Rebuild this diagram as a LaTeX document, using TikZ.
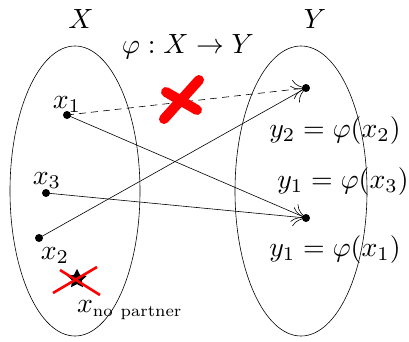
\documentclass[tikz,border=0pt]{standalone}
\usetikzlibrary{arrows.meta,shapes.geometric}
\begin{document}
\begin{tikzpicture}[x=1pt,y=-1pt,
  lbl/.style={inner sep=0pt,outer sep=0pt,scale=2.78},
  setline/.style={line width=0.6pt},
  dot/.style={circle,fill=black,minimum size=8pt,inner sep=0pt},
  maparrow/.style={line width=0.6pt,-{To[length=14pt,width=19pt,line width=0.6pt]}, shorten >=-1pt},
  redcross/.style={red,line width=10pt,line cap=round},
  smallcross/.style={red,line width=2.6pt}
]
\useasboundingbox (0,0) rectangle (409,341);
% sets
\draw[setline] (75,191) ellipse [x radius=65, y radius=145];
\draw[setline] (301,191) ellipse [x radius=66, y radius=145];
% titles
\node[lbl,anchor=base] (tX) at (81,28) {$X$};
\node[lbl,anchor=base] (tY) at (315,28) {$Y$};
\node[lbl,anchor=base] (phi) at (188,53) {$\varphi : X \to Y$};
% points of X
\node[dot] (x1) at (67,115) {};
\node[dot] (x3) at (46,193) {};
\node[dot] (x2) at (39,238) {};
\node[lbl,anchor=base] (lx1) at (67,108) {$x_1$};
\node[lbl,anchor=base] (lx3) at (47,184) {$x_3$};
\node[lbl,anchor=base] (lx2) at (55,259) {$x_2$};
% lonely point
\node[star,star points=5,star point ratio=2.0,fill=black,draw=black,line width=1.5pt,minimum size=17pt,inner sep=0pt] (xn) at (77,279) {};
\coordinate (c1a) at (53,293);
\coordinate (c1b) at (97,267);
\coordinate (c2a) at (60,270);
\coordinate (c2b) at (100,295);
\draw[smallcross] (c1a) -- (c1b);
\draw[smallcross] (c2a) -- (c2b);
\node[lbl,anchor=base west] (lxn) at (77,312) {$x_{\scalebox{0.85}{$\scriptstyle\mathrm{no\ partner}$}}$};
% points of Y
\node[dot] (y2) at (306,88) {};
\node[dot] (y1) at (306,218) {};
\node[lbl,anchor=base] (ly2) at (335,137) {$y_2=\varphi(x_2)$};
\node[lbl,anchor=base] (ly13) at (343,188) {$y_1=\varphi(x_3)$};
\node[lbl,anchor=base] (ly11) at (335,256) {$y_1=\varphi(x_1)$};
% mapping arrows
\draw[maparrow,dashed,dash pattern=on 7pt off 5pt] (x1.center) -- (y2.center);
\draw[maparrow] (x1.center) -- (y1.center);
\draw[maparrow] (x3.center) -- (y1.center);
\draw[maparrow] (x2.center) -- (y2.center);
% big red cross
\coordinate (ra) at (166,92);
\coordinate (rb) at (197,110);
\coordinate (rc) at (199,80);
\coordinate (rd) at (164,119);
\draw[redcross] (ra) -- (rb);
\draw[redcross] (rc) -- (rd);
\end{tikzpicture}
\end{document}
